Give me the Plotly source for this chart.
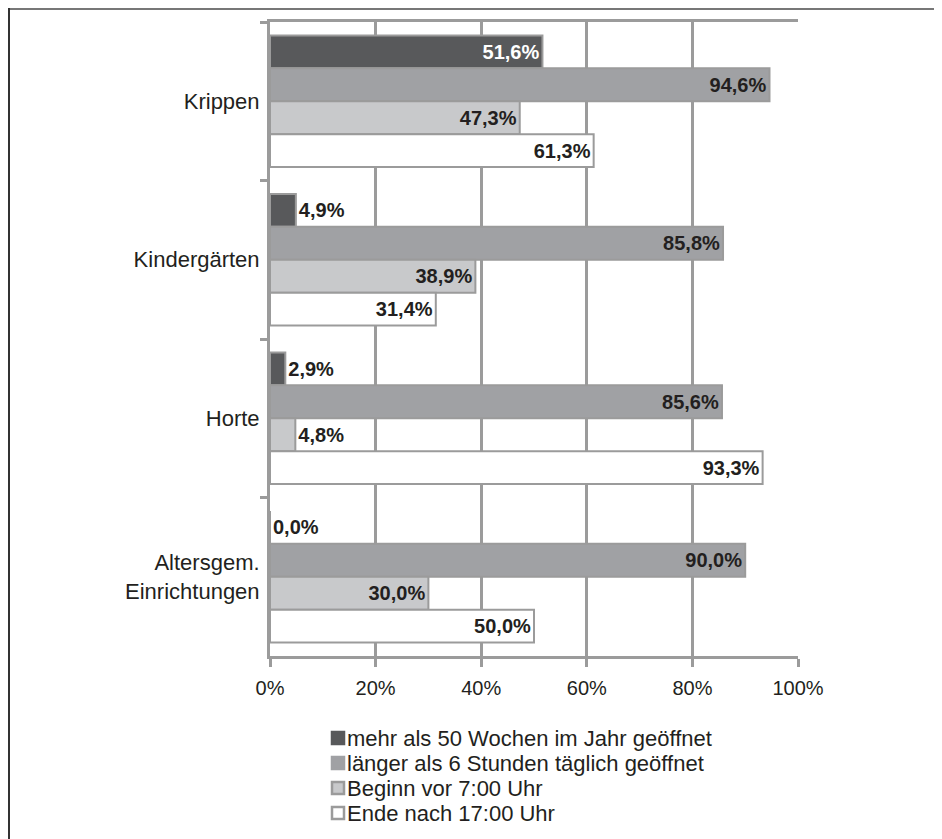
import plotly.graph_objects as go

categories = ["Krippen", "Kindergärten", "Horte", "Altersgem.<br>Einrichtungen"]
series_names = [
    "mehr als 50 Wochen im Jahr geöffnet",
    "länger als 6 Stunden täglich geöffnet",
    "Beginn vor 7:00 Uhr",
    "Ende nach 17:00 Uhr",
]
weeks_over_50 = [51.6, 4.9, 2.9, 0.0]
over_6_hours = [94.6, 85.8, 85.6, 90.0]
start_before_7 = [47.3, 38.9, 4.8, 30.0]
end_after_17 = [61.3, 31.4, 93.3, 50.0]
x_ticks = [0, 20, 40, 60, 80, 100]
x_tick_labels = ["0%", "20%", "40%", "60%", "80%", "100%"]

series_values = [weeks_over_50, over_6_hours, start_before_7, end_after_17]
colors = ["#58595b", "#a0a1a4", "#c8c9cb", "#ffffff"]
inside_text_colors = ["#ffffff", "#231f20", "#231f20", "#231f20"]
FONT = "Liberation Sans, Arial, sans-serif"
GRID = "#9b9b9b"
TXT = "#231f20"

# page body has an 8px margin; layout numbers below are in figure pixels
W, H = 934, 831
L, T, PW, PH = 262, 14, 528, 634


def px_x(x):
    return (x - L) / PW


def px_y(y):
    return 1 - (y - T) / PH


fig = go.Figure()
for name, vals, col, tcol in zip(series_names, series_values, colors, inside_text_colors):
    labels = [f"{v:.1f}".replace(".", ",") + "%" for v in vals]
    positions = ["inside" if v >= 10 else "outside" for v in vals]
    fig.add_trace(go.Bar(
        name=name,
        y=categories,
        x=vals,
        orientation="h",
        marker=dict(color=col, line=dict(color=GRID, width=2)),
        text=labels,
        textposition=positions,
        insidetextanchor="end",
        insidetextfont=dict(family=FONT, size=20, color=tcol, weight="bold"),
        outsidetextfont=dict(family=FONT, size=20, color=TXT, weight="bold"),
        textangle=0,
        cliponaxis=False,
        hoverinfo="skip",
        showlegend=False,
    ))

# legend drawn as shapes + annotations (positions in figure pixels)
shapes = []
annotations = []
row_y = [730, 755, 780, 805]
for name, col, ry in zip(series_names, colors, row_y):
    shapes.append(dict(
        type="rect", xref="paper", yref="paper",
        x0=px_x(324), x1=px_x(336), y0=px_y(ry + 6), y1=px_y(ry - 6),
        fillcolor=col, line=dict(color=GRID if col in ("#c8c9cb", "#ffffff") else col, width=2.5),
    ))
    annotations.append(dict(
        xref="paper", yref="paper", x=px_x(337), y=px_y(ry),
        xanchor="left", yanchor="middle", showarrow=False,
        text=name, font=dict(family=FONT, size=22, color=TXT),
    ))

# outer frame (top and left edges of the scanned page)
shapes.append(dict(type="line", xref="paper", yref="paper",
                   x0=px_x(0), x1=px_x(W), y0=px_y(1), y1=px_y(1),
                   line=dict(color="#777777", width=2)))
shapes.append(dict(type="line", xref="paper", yref="paper",
                   x0=px_x(1), x1=px_x(1), y0=px_y(0), y1=px_y(H),
                   line=dict(color="#333333", width=2)))

fig.update_layout(
    width=W,
    height=H,
    margin=dict(l=L, r=W - L - PW, t=T, b=H - T - PH),
    paper_bgcolor="white",
    plot_bgcolor="white",
    barmode="group",
    bargap=0.17,
    bargroupgap=0,
    uniformtext=dict(minsize=20, mode="show"),
    font=dict(family=FONT, size=20, color=TXT),
    showlegend=False,
    xaxis=dict(
        range=[0, 100],
        tickvals=x_ticks,
        ticktext=x_tick_labels,
        showgrid=True,
        gridcolor=GRID,
        gridwidth=3,
        zeroline=False,
        showline=True,
        linecolor=GRID,
        linewidth=3,
        mirror=True,
        ticks="outside",
        ticklen=8,
        tickwidth=3,
        tickcolor=GRID,
        tickfont=dict(family=FONT, size=20, color=TXT),
        ticklabelstandoff=4,
        fixedrange=True,
    ),
    yaxis=dict(
        type="category",
        categoryorder="array",
        categoryarray=categories,
        autorange="reversed",
        showline=True,
        linecolor=GRID,
        linewidth=3,
        ticks="outside",
        tickson="boundaries",
        ticklen=7,
        tickwidth=3,
        tickcolor=GRID,
        showgrid=False,
        tickfont=dict(family=FONT, size=22, color=TXT),
        ticklabelstandoff=3,
        fixedrange=True,
    ),
    shapes=shapes,
    annotations=annotations,
)

fig.write_html("out.html")
